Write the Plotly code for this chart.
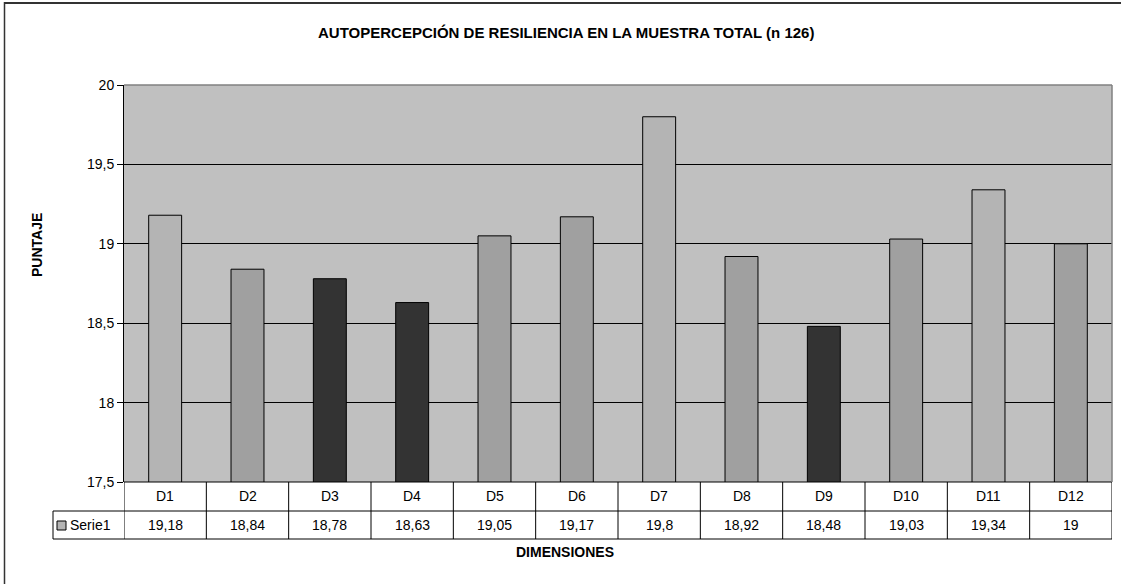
import plotly.graph_objects as go

categories = ["D1", "D2", "D3", "D4", "D5", "D6", "D7", "D8", "D9", "D10", "D11", "D12"]
values = [19.18, 18.84, 18.78, 18.63, 19.05, 19.17, 19.8, 18.92, 18.48, 19.03, 19.34, 19.0]
value_labels = ["19,18", "18,84", "18,78", "18,63", "19,05", "19,17", "19,8", "18,92", "18,48", "19,03", "19,34", "19"]
bar_colors = ["#B4B4B4", "#A0A0A0", "#333333", "#333333", "#A0A0A0", "#A0A0A0",
              "#B4B4B4", "#A0A0A0", "#333333", "#A0A0A0", "#B4B4B4", "#A0A0A0"]
series_name = "Serie1"

W, H = 1121, 584
L, R, T, B = 124, 9, 85, 102
ph = H - T - B
pw = W - L - R

def py(p):  # pixel y -> paper y
    return (H - B - p) / ph

def px(p):  # pixel x -> paper x
    return (p - L) / pw

FONT = "Liberation Sans, Arial, sans-serif"
idx = list(range(len(categories)))

fig = go.Figure()
fig.add_trace(go.Bar(
    x=idx, y=values, marker=dict(color=bar_colors, line=dict(color="#000000", width=1)),
    name=series_name, showlegend=False, hoverinfo="skip"))

row1_top, row1_bot, row2_bot = 0, py(511), py(539)
leg_left = px(53)
blk = dict(color="black", width=1)

shapes = []
shapes.append(dict(type="line", xref="paper", yref="paper", x0=leg_left, x1=1, y0=row1_bot, y1=row1_bot, line=blk))
shapes.append(dict(type="line", xref="paper", yref="paper", x0=leg_left, x1=1, y0=row2_bot, y1=row2_bot, line=blk))
shapes.append(dict(type="line", xref="paper", yref="paper", x0=leg_left, x1=leg_left, y0=row1_bot, y1=row2_bot, line=blk))
for k in range(len(categories) + 1):
    shapes.append(dict(type="line", xref="x", yref="paper", x0=k - 0.5, x1=k - 0.5, y0=0, y1=row2_bot, line=blk))
shapes.append(dict(type="line", xref="paper", yref="paper", x0=0, x1=1, y0=0, y1=0, line=blk))
# plot area top/right border (gray)
shapes.append(dict(type="line", xref="paper", yref="paper", x0=0, x1=1, y0=1, y1=1,
                   line=dict(color="#808080", width=1.5)))
shapes.append(dict(type="line", xref="paper", yref="paper", x0=1, x1=1, y0=0, y1=1,
                   line=dict(color="#808080", width=1.5)))
# legend key square
shapes.append(dict(type="rect", xref="paper", yref="paper", x0=px(57), x1=px(66), y0=py(530), y1=py(521),
                   fillcolor="#B4B4B4", line=dict(color="black", width=1)))
# outer chart frame: top and left edges only
shapes.append(dict(type="line", xref="paper", yref="paper", x0=px(4), x1=px(1125), y0=py(3), y1=py(3),
                   line=dict(color="#333333", width=2)))
shapes.append(dict(type="line", xref="paper", yref="paper", x0=px(4.5), x1=px(4.5), y0=py(2), y1=py(590),
                   line=dict(color="#333333", width=1.5)))

def ann(x, y, text, xref="paper", size=14, **kw):
    d = dict(x=x, y=y, xref=xref, yref="paper", text=text, showarrow=False,
             xanchor="center", yanchor="middle", font=dict(family=FONT, size=size, color="black"))
    d.update(kw)
    return d

annotations = []
for i, (c, v) in enumerate(zip(categories, value_labels)):
    annotations.append(ann(i, (row1_top + row1_bot) / 2, c, xref="x"))
    annotations.append(ann(i, (row1_bot + row2_bot) / 2, v, xref="x"))
annotations.append(ann(px(68), (row1_bot + row2_bot) / 2, series_name, xanchor="left"))
annotations.append(ann(px(565), py(552), "<b>DIMENSIONES</b>"))
annotations.append(ann(px(37), py(245), "<b>PUNTAJE</b>", textangle=-90))
annotations.append(ann(px(566), py(32), "<b>AUTOPERCEPCIÓN DE RESILIENCIA EN LA MUESTRA TOTAL (n 126)</b>", size=15))

fig.update_layout(
    width=W, height=H,
    margin=dict(l=L, r=R, t=T, b=B, pad=0),
    paper_bgcolor="white", plot_bgcolor="#C0C0C0",
    separators=",.",
    bargap=0.6,
    showlegend=False,
    shapes=shapes, annotations=annotations,
    font=dict(family=FONT, size=14, color="black"),
)
fig.update_xaxes(range=[-0.5, len(categories) - 0.5], showticklabels=False, showgrid=False,
                 zeroline=False, showline=False, ticks="")
fig.update_yaxes(range=[17.5, 20], dtick=0.5, tick0=17.5, showgrid=True, gridcolor="black", gridwidth=1,
                 zeroline=False, showline=True, linecolor="black", linewidth=1, ticks="outside",
                 ticklen=6, tickcolor="black", tickfont=dict(family=FONT, size=14, color="black"))

fig.write_html("out.html", config={"displayModeBar": False},
               post_script="document.body.style.margin='0';document.body.style.overflow='hidden';")
